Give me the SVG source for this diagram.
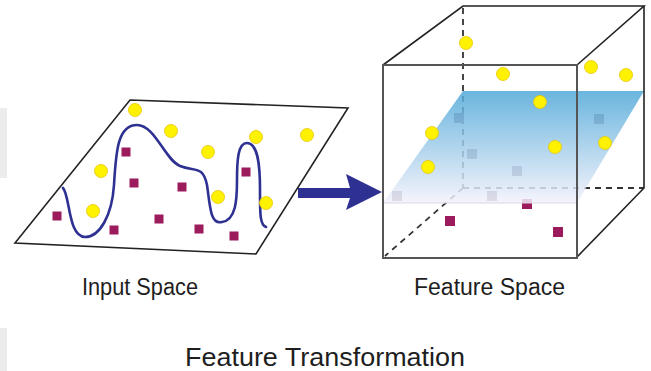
<svg xmlns="http://www.w3.org/2000/svg" width="651" height="371" viewBox="0 0 651 371">
<style>
.dot{fill:#fff200;stroke:#e6c700;stroke-width:0.8}
.sq{fill:#9b1b5c}
.lbl{font-family:"Liberation Sans",Arial,sans-serif;fill:#1e1e1e}
.edge{fill:none;stroke:#222;stroke-width:1.6}
.front{fill:none;stroke:#555;stroke-width:2}
.dash{fill:none;stroke:#333;stroke-width:1.8;stroke-dasharray:6 5}
</style>
<defs>
<linearGradient id="planeGrad" x1="0" y1="0" x2="0" y2="1">
<stop offset="0" stop-color="#4ea7d8"/>
<stop offset="1" stop-color="#f4f2fb"/>
</linearGradient>
</defs>
<rect width="651" height="371" fill="#fff"/>
<rect x="0" y="108" width="7" height="70" fill="#ececec"/>
<rect x="0" y="328" width="7" height="43" fill="#ececec"/>

<g id="input-space">
<polygon points="130,100 348,108 256,254 15,243" fill="#fff" stroke="#222" stroke-width="1.6"/>
<path d="M63,188 C70,195 68,237 85,237 C100,237 112,215 114,185 C116,150 118,125 137,125 C155,125 165,160 180,166 C195,172 203,165 207,185 C210,205 210,225 222,222 C236,220 237,200 237,180 C237,160 238,143 247,143 C258,143 260,165 260,190 C260,215 260,225 266,227" fill="none" stroke="#2e3192" stroke-width="2.6" stroke-linecap="round"/>
<g>
<circle class="dot" cx="135" cy="110" r="6.5"/>
<circle class="dot" cx="171" cy="131" r="6.5"/>
<circle class="dot" cx="256" cy="137" r="6.5"/>
<circle class="dot" cx="307" cy="135" r="6.5"/>
<circle class="dot" cx="208" cy="152" r="6.5"/>
<circle class="dot" cx="101" cy="171" r="6.5"/>
<circle class="dot" cx="218" cy="197" r="6.5"/>
<circle class="dot" cx="266" cy="203" r="6.5"/>
<circle class="dot" cx="93" cy="211" r="6.5"/>
</g>
<g>
<rect class="sq" x="121.5" y="147.5" width="9" height="9"/>
<rect class="sq" x="129.5" y="178.5" width="9" height="9"/>
<rect class="sq" x="177.5" y="182.5" width="9" height="9"/>
<rect class="sq" x="241.5" y="167.5" width="9" height="9"/>
<rect class="sq" x="52.5" y="211.5" width="9" height="9"/>
<rect class="sq" x="154.5" y="214.5" width="9" height="9"/>
<rect class="sq" x="109.5" y="225.5" width="9" height="9"/>
<rect class="sq" x="194.5" y="224.5" width="9" height="9"/>
<rect class="sq" x="229.5" y="231.5" width="9" height="9"/>
</g>
</g>

<g id="feature-space">
<g>
<line class="dash" x1="463" y1="8" x2="463" y2="188"/>
<line class="dash" x1="463" y1="188" x2="644" y2="188"/>
<line class="dash" x1="463" y1="188" x2="385" y2="256"/>
</g>
<g fill="#7a6a80">
<rect x="454" y="113" width="10" height="10"/>
<rect x="467" y="149" width="10" height="10"/>
<rect x="512" y="166" width="10" height="10"/>
<rect x="594" y="114" width="10" height="10"/>
<rect x="392" y="191" width="10" height="10"/>
<rect x="487" y="191" width="10" height="10"/>
<rect class="sq" x="522" y="199" width="10" height="10"/>
</g>
<polygon id="plane" points="463,91 644,91 577,203 383,203" fill="url(#planeGrad)" fill-opacity="0.84"/>
<line x1="383" y1="203" x2="577" y2="203" stroke="#d9d5ea" stroke-width="1"/>
<g>
<rect class="sq" x="445" y="216" width="10" height="10"/>
<rect class="sq" x="553" y="227" width="10" height="10"/>
</g>
<g>
<polyline class="edge" points="383,65 463,6 644,6 577,65"/>
<polyline class="edge" points="644,6 644,188 577,257"/>
<rect class="front" x="383" y="65" width="194" height="193"/>
</g>
<g>
<circle class="dot" cx="466" cy="43" r="6.5"/>
<circle class="dot" cx="503" cy="74" r="6.5"/>
<circle class="dot" cx="591" cy="67" r="6.5"/>
<circle class="dot" cx="626" cy="75" r="6.5"/>
<circle class="dot" cx="540" cy="102" r="6.5"/>
<circle class="dot" cx="432" cy="133" r="6.5"/>
<circle class="dot" cx="555" cy="147" r="6.5"/>
<circle class="dot" cx="605" cy="143" r="6.5"/>
<circle class="dot" cx="428" cy="167" r="6.5"/>
</g>
</g>

<g id="connectors">
<path d="M298,188 L350,188 L346,174 L382,192 L346,210 L350,198 L298,198 Z" fill="#2e3192"/>
</g>

<g id="labels">
<text class="lbl" x="82" y="295" font-size="23" textLength="116" lengthAdjust="spacingAndGlyphs">Input Space</text>
<text class="lbl" x="414" y="295" font-size="23" textLength="151" lengthAdjust="spacingAndGlyphs">Feature Space</text>
<text class="lbl" x="185" y="366" font-size="25" textLength="280" lengthAdjust="spacingAndGlyphs">Feature Transformation</text>
</g>
</svg>
